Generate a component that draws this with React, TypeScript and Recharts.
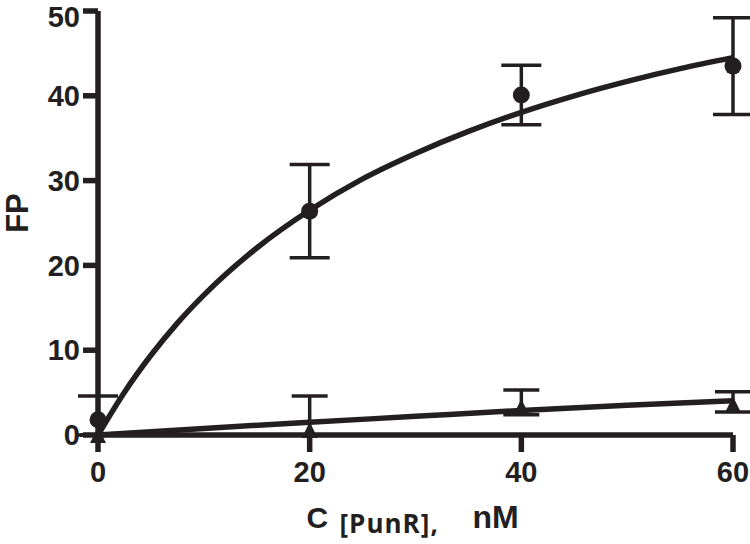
import React from 'react';
import { ComposedChart, Line, Scatter, XAxis, YAxis, ErrorBar, Label } from 'recharts';

const INK = '#231f20';
const FONT = '"Liberation Sans", Arial, sans-serif';
const SUBFONT = '"Open Sans", "Liberation Sans", sans-serif';

const xTicks = [0, 20, 40, 60];
const yTicks = [0, 10, 20, 30, 40, 50];

// measured points (mean with [lower, upper] error)
const circleX = [0, 20, 40, 60];
const circleY = [1.8, 26.4, 40.1, 43.5];
const circleErrLow = [1.8, 5.5, 3.5, 5.7];
const circleErrHigh = [2.8, 5.5, 3.5, 5.7];

const triX = [0, 20, 40, 60];
const triY = [0, 0.6, 3.3, 3.6];
const triErrLow = [0, 0.6, 0.9, 0.9];
const triErrHigh = [0, 4.0, 2.0, 1.5];

// fitted curves
const fitCircleX = [0, 2.5, 5, 7.5, 10, 15, 20, 25, 30, 35, 40, 45, 50, 55, 60];
const fitCircleY = [0, 5.05, 9.4, 13.2, 16.5, 22.05, 26.5, 30.2, 33.2, 35.8, 38.05, 40.0, 41.7, 43.2, 44.5];
const fitTriX = [0, 10, 20, 30, 40, 50, 60];
const fitTriY = [0, 0.78, 1.5, 2.2, 2.9, 3.5, 4.05];

const circles = circleX.map((x, i) => ({ x, y: circleY[i], err: [circleErrLow[i], circleErrHigh[i]] }));
const triangles = triX.map((x, i) => ({ x, y: triY[i], err: [triErrLow[i], triErrHigh[i]] }));
const fitCircle = fitCircleX.map((x, i) => ({ x, y: fitCircleY[i] }));
const fitTri = fitTriX.map((x, i) => ({ x, y: fitTriY[i] }));

const CircleShape = (p: any) => <circle cx={p.cx} cy={p.cy} r={8.5} fill={INK} />;
const TriShape = (p: any) => {
  const s = 16;
  const h = 16;
  return (
    <polygon
      points={`${p.cx},${p.cy - h / 2} ${p.cx - s / 2},${p.cy + h / 2} ${p.cx + s / 2},${p.cy + h / 2}`}
      fill={INK}
    />
  );
};

const tickStyle = { fontSize: 29, fontWeight: 700, fill: INK, fontFamily: FONT };

const XLabel = (props: any) => {
  const vb = props.viewBox;
  const cx = vb.x + vb.width / 2;
  const base = vb.y + 93;
  return (
    <g>
      <text x={cx - 109} y={base} fill={INK} style={{ fontFamily: FONT, fontSize: 30, fontWeight: 700 }}>C</text>
      <text x={cx - 76} y={base + 5} fill={INK} style={{ fontFamily: SUBFONT, fontSize: 26, fontWeight: 700, letterSpacing: 1 }}>[PunR],</text>
      <text x={cx + 57} y={base} fill={INK} style={{ fontFamily: FONT, fontSize: 32, fontWeight: 700 }}>nM</text>
    </g>
  );
};

const YLabel = (props: any) => {
  const vb = props.viewBox;
  const x = vb.x + 7;
  const y = vb.y + vb.height / 2 - 10;
  return (
    <text
      transform={`translate(${x},${y}) rotate(-90)`}
      textAnchor="middle"
      dominantBaseline="central"
      fill={INK}
      style={{ fontFamily: FONT, fontSize: 31, fontWeight: 700 }}
    >
      FP
    </text>
  );
};

export default function App() {
  return (
    <div style={{ position: 'absolute', left: 0, top: 0 }}>
      <ComposedChart width={750} height={544} margin={{ top: 11, right: 17, bottom: 48, left: 10 }}>
        <XAxis
          type="number"
          dataKey="x"
          domain={[0, 60]}
          ticks={xTicks}
          axisLine={{ stroke: INK, strokeWidth: 5.5 }}
          tickLine={{ stroke: INK, strokeWidth: 5.5 }}
          tickSize={17}
          tickMargin={9}
          tick={tickStyle}
          height={61}
        >
          <Label content={<XLabel />} />
        </XAxis>
        <YAxis
          type="number"
          dataKey="y"
          domain={[0, 50]}
          ticks={yTicks}
          axisLine={{ stroke: INK, strokeWidth: 5.5 }}
          tickLine={{ stroke: INK, strokeWidth: 5.5 }}
          tickSize={15}
          tickMargin={3}
          tick={tickStyle}
          width={88}
        >
          <Label content={<YLabel />} />
        </YAxis>
        <Line data={fitCircle} dataKey="y" type="monotone" stroke={INK} strokeWidth={5.5} dot={false} isAnimationActive={false} />
        <Line data={fitTri} dataKey="y" type="monotone" stroke={INK} strokeWidth={5.5} dot={false} isAnimationActive={false} />
        <Scatter data={circles} dataKey="y" shape={CircleShape} isAnimationActive={false}>
          <ErrorBar dataKey="err" direction="y" width={20} stroke={INK} strokeWidth={3.5} />
        </Scatter>
        <Scatter data={triangles} dataKey="y" shape={TriShape} isAnimationActive={false}>
          <ErrorBar dataKey="err" direction="y" width={18} stroke={INK} strokeWidth={3.5} />
        </Scatter>
      </ComposedChart>
    </div>
  );
}
